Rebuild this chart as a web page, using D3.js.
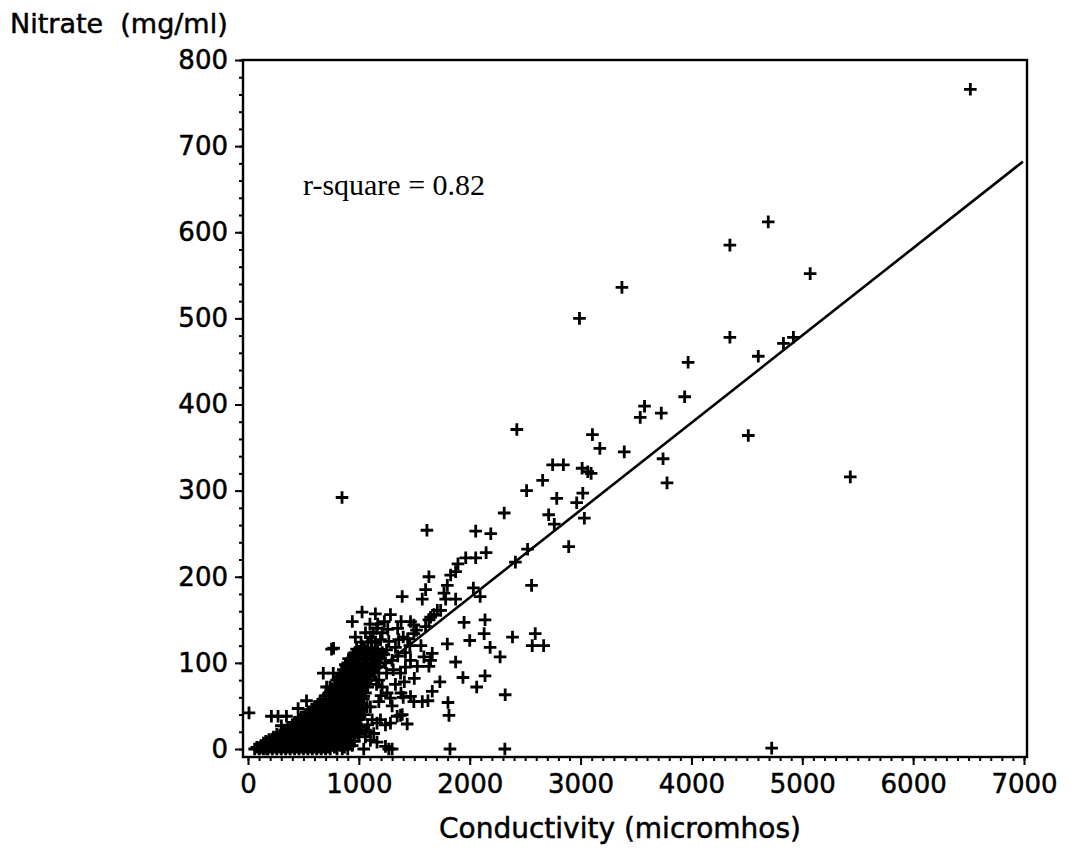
<!DOCTYPE html>
<html><head><meta charset="utf-8">
<script src="https://cdn.jsdelivr.net/npm/d3@7"></script>
<style>
html,body{margin:0;padding:0;background:#fff;}
svg{display:block;}
</style></head>
<body>
<svg id="chart" width="1071" height="851"></svg>
<script>
// ---------- data (conductivity in micromhos, nitrate in mg/ml) ----------
const highPoints = [
 [6516,766],[5071,552],[5433,316],[4830,471],[4920,478],[4693,612],[4347,585],[3373,536],[2990,500],
 [4347,478],[3970,449],[4603,456],[3939,409],[3577,398],[3538,385],[3728,390],[3107,365],[3174,349],
 [3394,345],[3014,326],[3065,322],[3095,320],[4513,364],[3744,337],[3780,309],[3020,297],[3034,268],[4724,1]
];
const midPoints = [
 [2425,371],[2748,330],[2845,330],[2658,312],[2513,300],[2785,291],[2965,286],[2311,274],[2712,272],
 [2763,261],[1614,254],[2054,253],[2190,250],[2893,235],[2148,228],[2522,232],[1964,222],[2054,222],
 [1894,215],[2412,217],[1873,206],[1828,202],[1632,200],[848,292],
 [2558,190],[1602,185],[1572,174],[1798,190],[1768,181],[1391,177],[1783,174],[1873,174],[2033,187],
 [2094,177],[1738,161],[1677,156],[1632,150],[1602,142],[1496,144],[1949,147],[2138,150],[2130,134],
 [2000,126],[1798,122],[2184,118],[2386,130],[2591,134],[2564,120],[2667,120],[2274,107],[1873,101],
 [1939,83],[2138,85],[2063,72],[2320,63],[1731,78],[1662,67],[1466,61],[1496,55],[1623,56],[1804,54],
 [1813,39],[1391,40],[1436,29],[1822,0],[2317,0]
];
const lowPoints = [
 [1029,159],[941,148],[1149,157],[1285,156],[1381,148],[1466,148],[1647,153],[1708,161],[1520,138],
 [1496,134],[1261,139],[968,130],[1104,130],[1119,125],[772,117],[1029,119],[1195,127],[1270,125],
 [1360,127],[1400,130],[908,105],[878,98],[1044,107],[1149,103],[1119,92],[1225,110],[1300,103],
 [1466,103],[1527,96],[1632,96],[1647,103],[1587,107],[1662,111],[1376,88],[769,88],[799,80],[739,72],
 [923,84],[1210,72],[1255,65],[1285,59],[1044,61],[1104,49],[908,57],[862,45],[799,38],[769,30],
 [1572,55],[1195,34],[1240,28],[1285,30],[1346,38],[1376,39],[1089,20],[1134,18],[1104,10],[1164,8],
 [998,18],[923,26],[1044,0],[1270,0],[1300,0],[1240,3],[803,0],[742,0],[1014,53],[1074,49],[1164,30],
 [1059,14],[109,1],[169,0],[9,42],[211,38],[271,38],[347,38],[301,27],[452,47],[528,56],[679,88],
 [754,116],[709,72],[1330,118],[1420,112],[1250,88],[1180,95],[1330,75],[1410,78],[1500,82],[1560,120],
 [1440,128],[1350,140],[1230,148],[1160,140],[1300,50],[1180,55],[1400,60],
 [1180,80],[1240,100],[1310,92],[1350,108],[1420,95],[1460,120],[1380,65],[1250,115],[1120,112],
 [1200,62],[1160,75]
];
// dense cluster near the origin, read row by row: nitrate level -> conductivities
const denseNitrate = [0,2,4,7,9,11,14,17,19,22,25,28,31,34,37,40,43,46,49,52,55,58,62,65,69,72,76,80,84,88,92,96,100,104,108,112,116,124,135,145];
const denseConductivity = [
 [60,100,140,180,220,260,300,340,380,420,460,500,540,580,620,660,700,850,900],
 [80,120,160,200,240,280,320,360,400,440,480,520,560,600,640,680,720,780,870],
 [120,170,210,250,290,330,370,410,450,490,530,570,610,650,690,760,830,940],
 [140,185,235,285,330,375,420,460,500,540,580,620,665,715,765,820,900],
 [160,210,260,310,350,400,440,480,520,560,600,640,690,740,790,870,960],
 [190,245,295,340,385,425,465,505,545,585,625,665,710,760,810,850,920],
 [230,280,330,380,420,470,510,550,590,630,670,720,770,820,880,960],
 [260,320,370,410,455,495,535,575,615,655,700,745,795,850,910,1000],
 [300,350,400,450,500,540,580,620,660,700,750,800,850,920,980],
 [330,390,440,485,530,570,610,650,690,735,780,830,885,950,1060],
 [360,420,470,520,560,600,640,680,720,770,820,870,940,1020],
 [400,450,500,545,585,625,665,705,750,795,850,905,980,1080],
 [420,480,530,570,610,650,690,740,790,840,900,960],
 [455,510,560,605,645,690,730,775,825,875,930,990,1120],
 [480,540,590,630,670,710,750,800,850,900,950,1010],
 [515,570,620,660,700,740,785,830,880,930,985,1050],
 [540,600,650,690,730,770,820,870,920,980],
 [575,625,675,715,755,800,845,895,950,1010],
 [600,650,700,740,780,830,880,930,990],
 [630,680,725,765,810,855,905,960,1030],
 [650,700,750,790,840,890,950,1000],
 [680,730,775,820,865,920,975,1040],
 [700,750,800,850,900,960,1010],
 [730,780,830,880,935,990,1060],
 [760,810,860,910,970,1030],
 [785,835,885,940,1000,1080],
 [800,850,900,950,1010,1060],
 [820,870,925,975,1030,1090],
 [830,880,940,990,1050,1110],
 [850,905,960,1015,1070,1140],
 [860,920,970,1030,1090],
 [885,940,990,1050,1110,1170],
 [900,960,1010,1070,1130,1190],
 [930,985,1040,1100,1160],
 [950,1000,1060,1120,1180],
 [965,1025,1085,1140,1210],
 [980,1050,1110,1170],
 [1020,1080,1150],
 [1060,1130,1210],
 [1100,1170]
];
const fitLine = [[266,0],[6990,682]];
const xTicks = [0,1000,2000,3000,4000,5000,6000,7000];
const yTicks = [0,100,200,300,400,500,600,700,800];
const rSquareText = "r-square = 0.82";
const xTitle = "Conductivity (micromhos)";
const yTitle = "Nitrate  (mg/ml)";

// ---------- build ----------
const points = [...highPoints, ...midPoints, ...lowPoints];
denseNitrate.forEach((n,i)=>denseConductivity[i].forEach(c=>points.push([c,n])));

const svg = d3.select("#chart");
const x = d3.scaleLinear().domain([0,7000]).range([248,1024]);
const y = d3.scaleLinear().domain([0,800]).range([749,60]);
const frame = {left:243, right:1027, top:60, bottom:757};
const font = "'DejaVu Sans', sans-serif";

// frame
svg.append("rect").attr("x",frame.left).attr("y",frame.top)
  .attr("width",frame.right-frame.left).attr("height",frame.bottom-frame.top)
  .attr("fill","none").attr("stroke","#000").attr("stroke-width",2.4);

// y axis
const yMinor = d3.range(0,801,20);
const yAx = svg.append("g").attr("transform",`translate(${frame.left},0)`);
yAx.call(d3.axisLeft(y).tickValues(yMinor).tickSize(4).tickFormat(""));
yAx.append("g").call(d3.axisLeft(y).tickValues(yTicks).tickSize(8).tickPadding(7).tickFormat(d3.format("d")));
yAx.selectAll(".domain").remove();
yAx.selectAll("line").attr("stroke","#000").attr("stroke-width",2);
yAx.selectAll("text").attr("font-family",font).attr("font-size",26).attr("fill","#000")
  .attr("stroke","#000").attr("stroke-width",0.5);

// x axis
const xMinor = d3.range(0,7001,100);
const xAx = svg.append("g").attr("transform",`translate(0,${frame.bottom})`);
xAx.call(d3.axisBottom(x).tickValues(xMinor).tickSize(4).tickFormat(""));
xAx.append("g").call(d3.axisBottom(x).tickValues(xTicks).tickSize(8).tickPadding(10).tickFormat(d3.format("d")));
xAx.selectAll(".domain").remove();
xAx.selectAll("line").attr("stroke","#000").attr("stroke-width",2);
xAx.selectAll("text").attr("font-family",font).attr("font-size",26).attr("fill","#000")
  .attr("stroke","#000").attr("stroke-width",0.5);

// regression line
svg.append("path")
  .attr("d",d3.line().x(d=>x(d[0])).y(d=>y(d[1]))(fitLine))
  .attr("fill","none").attr("stroke","#000").attr("stroke-width",2.6);

// plus markers
const arm = 6.3;
svg.append("g").selectAll("path").data(points).join("path")
  .attr("d",d=>{const cx=x(d[0]), cy=y(d[1]);
    return `M${cx-arm},${cy}H${cx+arm}M${cx},${cy-arm}V${cy+arm}`;})
  .attr("stroke","#000").attr("stroke-width",2.8).attr("fill","none");

// texts
svg.append("text").attr("x",10).attr("y",33).attr("font-family",font).attr("font-size",27)
  .attr("stroke","#000").attr("stroke-width",0.5)
  .attr("xml:space","preserve").style("white-space","pre").text(yTitle);
svg.append("text").attr("x",620).attr("y",838).attr("text-anchor","middle")
  .attr("font-family",font).attr("font-size",28).attr("stroke","#000").attr("stroke-width",0.5).text(xTitle);
svg.append("text").attr("x",303).attr("y",195).attr("font-family","'Liberation Serif', 'Times New Roman', serif")
  .attr("font-size",30).text(rSquareText);
</script>
</body></html>
